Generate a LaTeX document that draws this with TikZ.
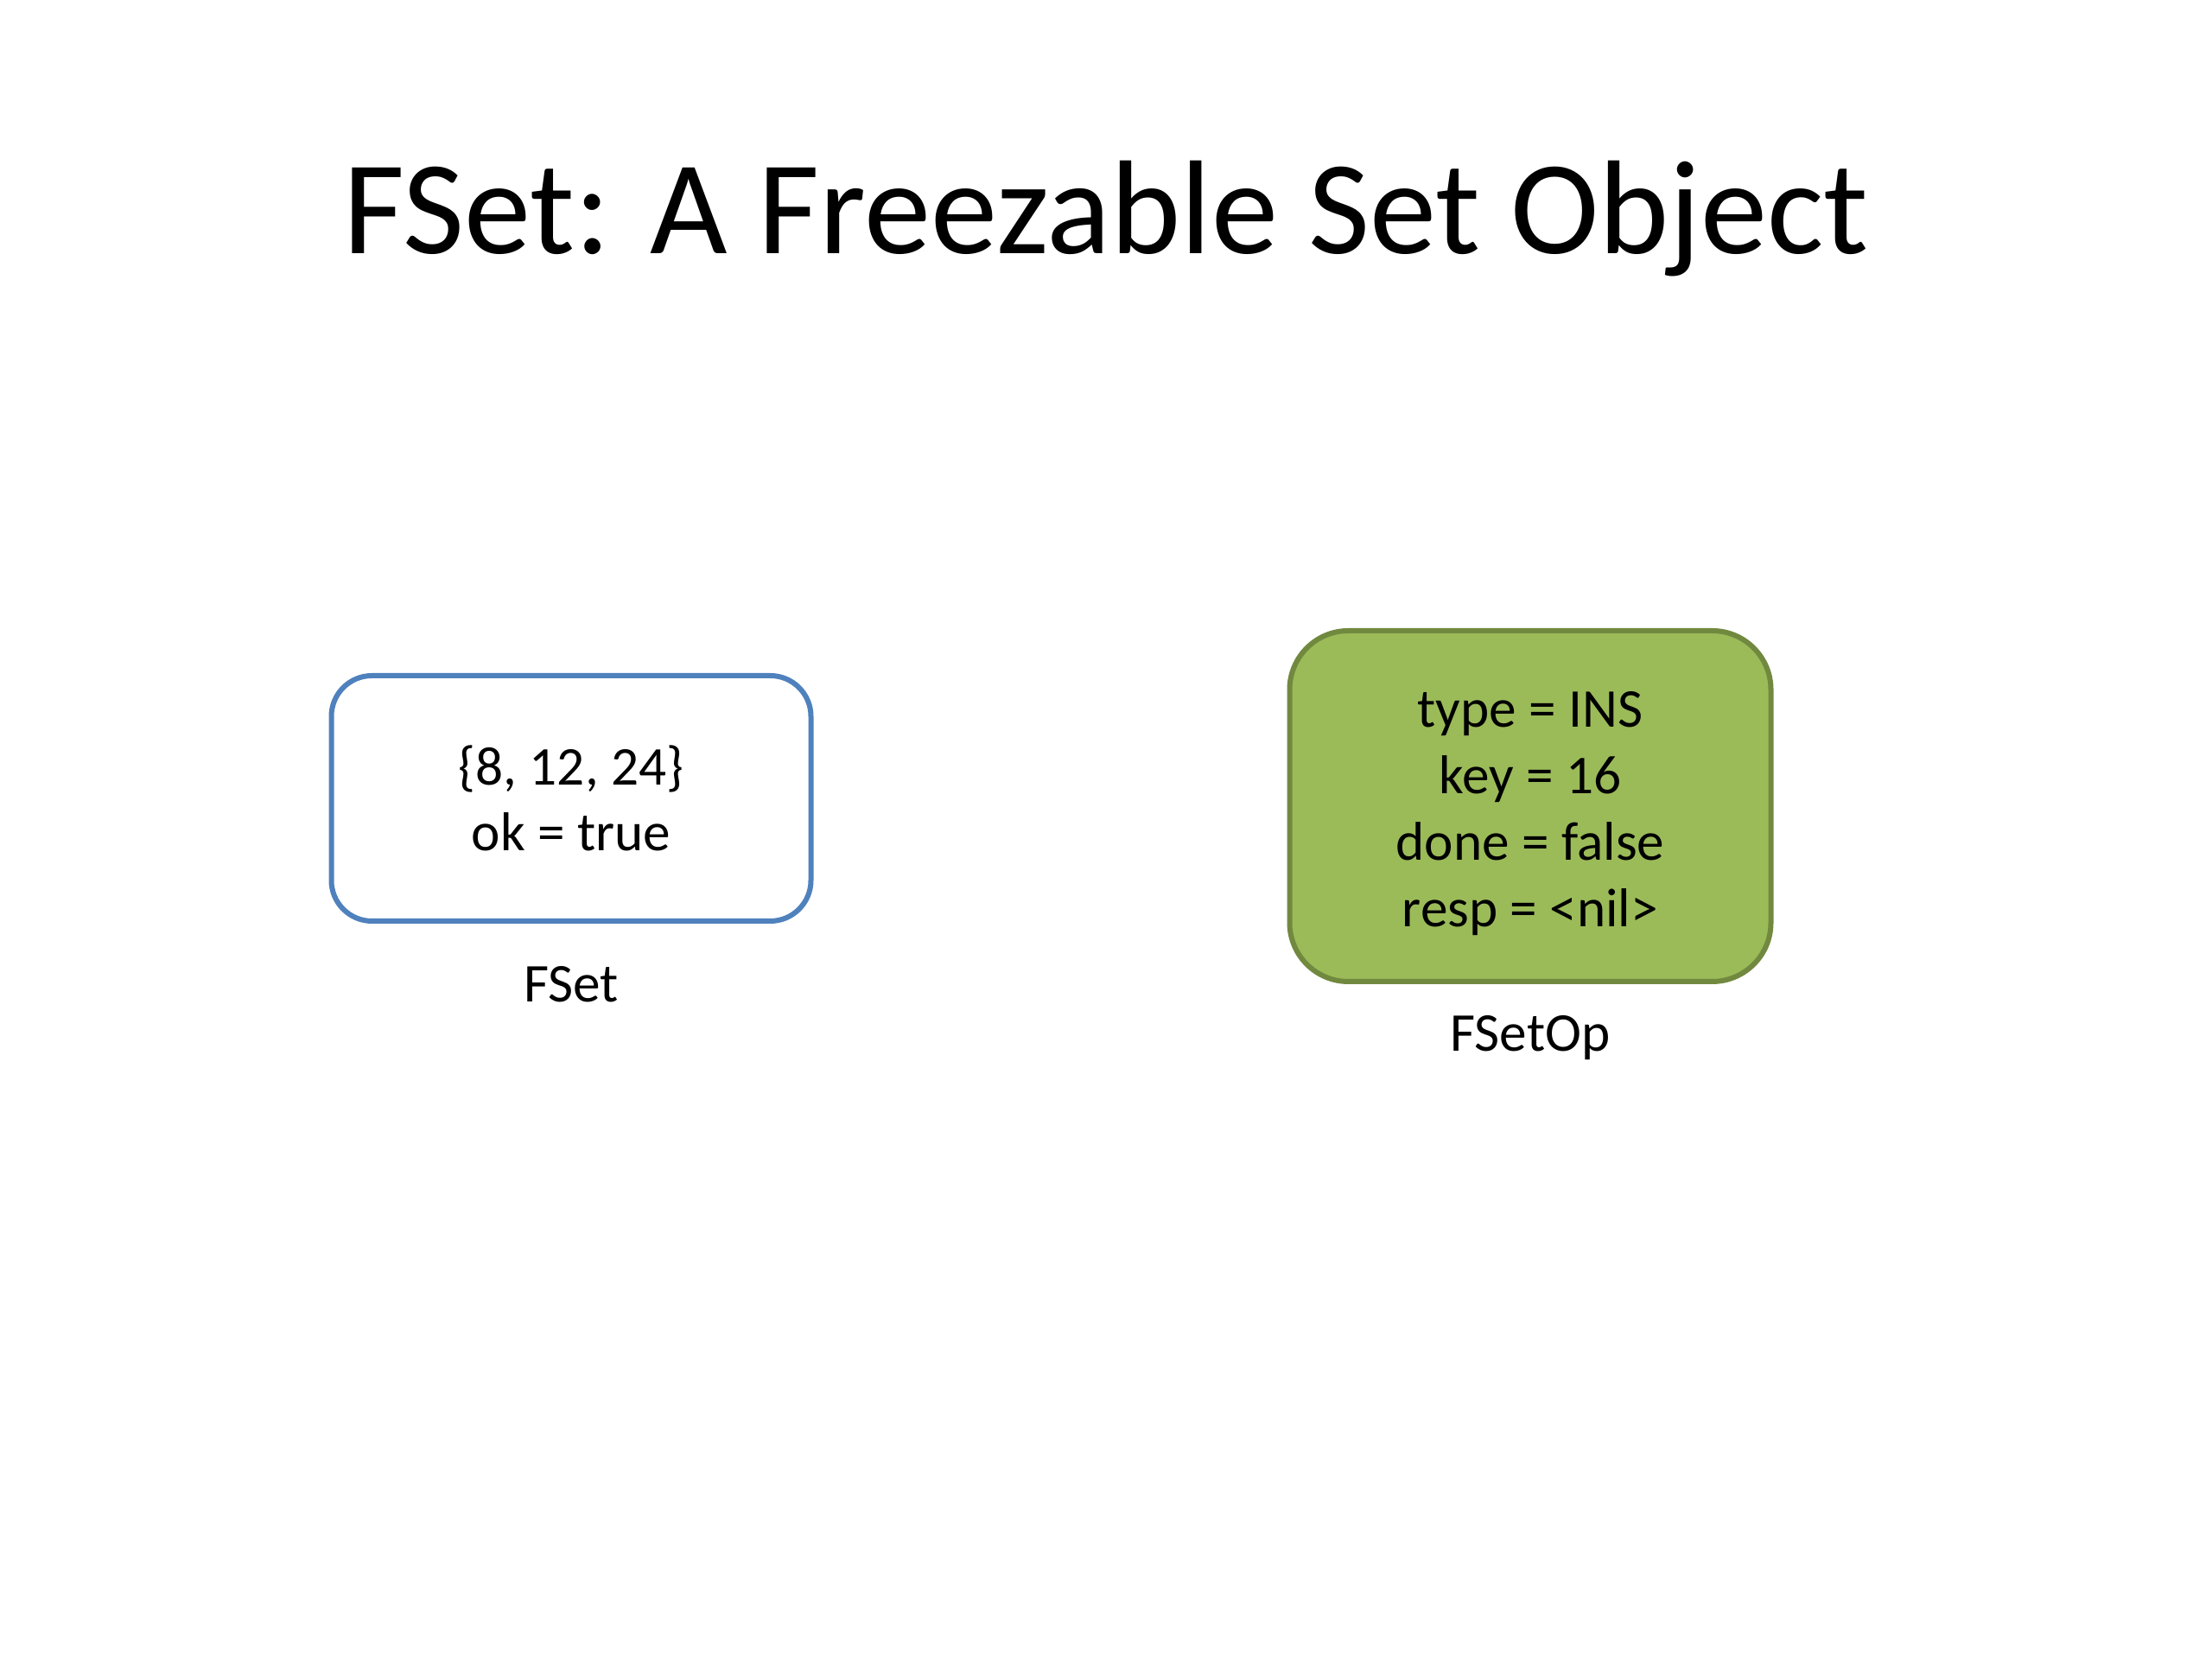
\documentclass[tikz,border=0pt]{standalone}
\usepackage{fontspec}
\setmainfont{Carlito}
\usetikzlibrary{positioning}
\definecolor{setblue}{HTML}{4F81BD}
\definecolor{opgreen}{HTML}{9BBB59}
\definecolor{opedge}{HTML}{71893F}

\begin{document}
\begin{tikzpicture}[
  setbox/.style={draw=setblue, line width=0.06cm, rounded corners=0.47cm,
    minimum width=5.55cm, minimum height=2.84cm, align=center,
    font=\fontsize{18}{21.6}\selectfont},
  opbox/.style={draw=opedge, fill=opgreen, line width=0.06cm, rounded corners=0.68cm,
    minimum width=5.57cm, minimum height=4.06cm, align=center,
    font=\fontsize{18}{21.9}\selectfont},
  caption/.style={font=\fontsize{18}{21.6}\selectfont}]
\useasboundingbox (0,0) rectangle (25.6,19.2);
\node[anchor=base, font=\fontsize{44}{53}\selectfont](title) at (12.8,16.26) {FSet: A Freezable Set Object};
\node[setbox](fset) at (6.61,9.96) {\{8, 12, 24\}\\ok = true};
\node[opbox](fsetop) at (17.71,9.87) {\rule{0pt}{16.5pt}type = INS\\key = 16\\done = false\\resp = <nil>};
\node[caption, below=0.37cm of fset.south](fsetlbl) {FSet};
\node[caption, below=0.24cm of fsetop.south](fsetoplbl) {FSetOp};
\end{tikzpicture}
\end{document}
